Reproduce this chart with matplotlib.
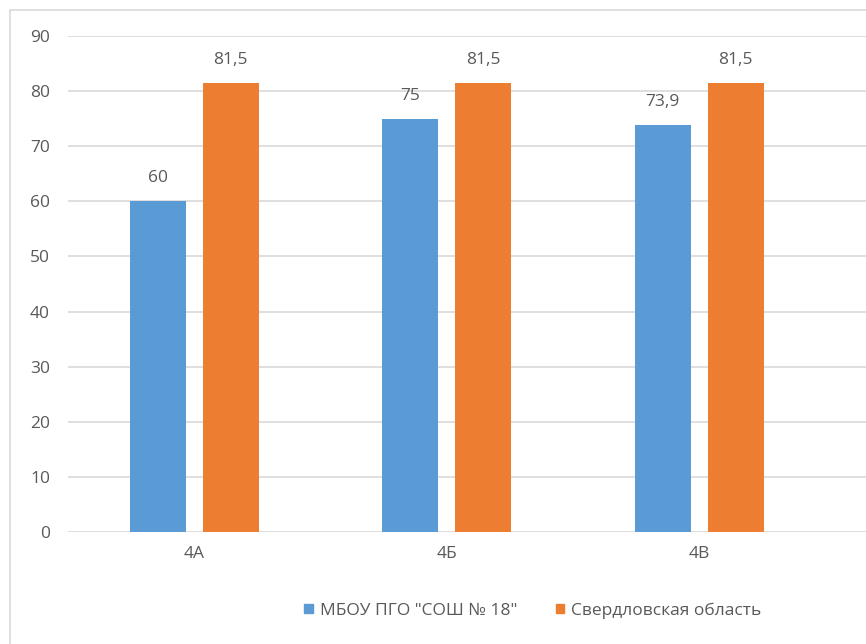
import numpy as np
import matplotlib
matplotlib.use('Agg')
import matplotlib.pyplot as plt
from matplotlib.patches import Rectangle, Patch

# данные
categories = ['4А', '4Б', '4В']
school = [60, 75, 73.9]
region = [81.5, 81.5, 81.5]
series_names = ['МБОУ ПГО "СОШ № 18"', 'Свердловская область']
y_ticks = list(range(0, 100, 10))

blue = '#5B9BD5'
orange = '#ED7D31'
text_col = '#595959'
grid_col = '#D9D9D9'
fs = 12.5

plt.rcParams['font.family'] = ['Open Sans', 'DejaVu Sans']

fig = plt.figure(figsize=(8.66, 6.44), dpi=100)

# рамка диаграммы
fig.patches.append(Rectangle((10 / 866, -0.1), 1.2, 1.1 - 10 / 644,
                             transform=fig.transFigure, fill=False,
                             edgecolor=grid_col, linewidth=1.2))

ax = fig.add_axes([68 / 866, 112 / 644, 1 - 68 / 866, 496 / 644])

x = np.arange(len(categories))
w = 0.222
off = 0.1446
b1 = ax.bar(x - off, school, w, color=blue, zorder=3)
b2 = ax.bar(x + off, region, w, color=orange, zorder=3)

def fmt(v):
    s = f'{v:g}'
    return s.replace('.', ',')

for bars, vals in ((b1, school), (b2, region)):
    for r, v in zip(bars, vals):
        ax.text(r.get_x() + r.get_width() / 2, v + 4.2, fmt(v),
                ha='center', va='center', fontsize=fs, color=text_col)

ax.set_ylim(0, 90)
ax.set_xlim(-0.5, (866 - 68) / 252.5 - 0.5)
ax.set_yticks(y_ticks)
ax.set_xticks(x)
ax.set_xticklabels(categories)
ax.tick_params(axis='both', length=0, labelsize=fs, labelcolor=text_col)
ax.tick_params(axis='y', pad=13)
ax.tick_params(axis='x', pad=10)
ax.grid(axis='y', color=grid_col, linewidth=1.2, zorder=0)
for s in ax.spines.values():
    s.set_visible(False)

handles = [Patch(color=blue), Patch(color=orange)]
fig.legend(handles, series_names, loc='center', bbox_to_anchor=(533 / 866, 0.052),
           ncol=2, frameon=False, fontsize=fs, labelcolor=text_col,
           handlelength=0.5, handleheight=0.5, handletextpad=0.4,
           columnspacing=2.2)

fig.savefig('out.png', dpi=100)
